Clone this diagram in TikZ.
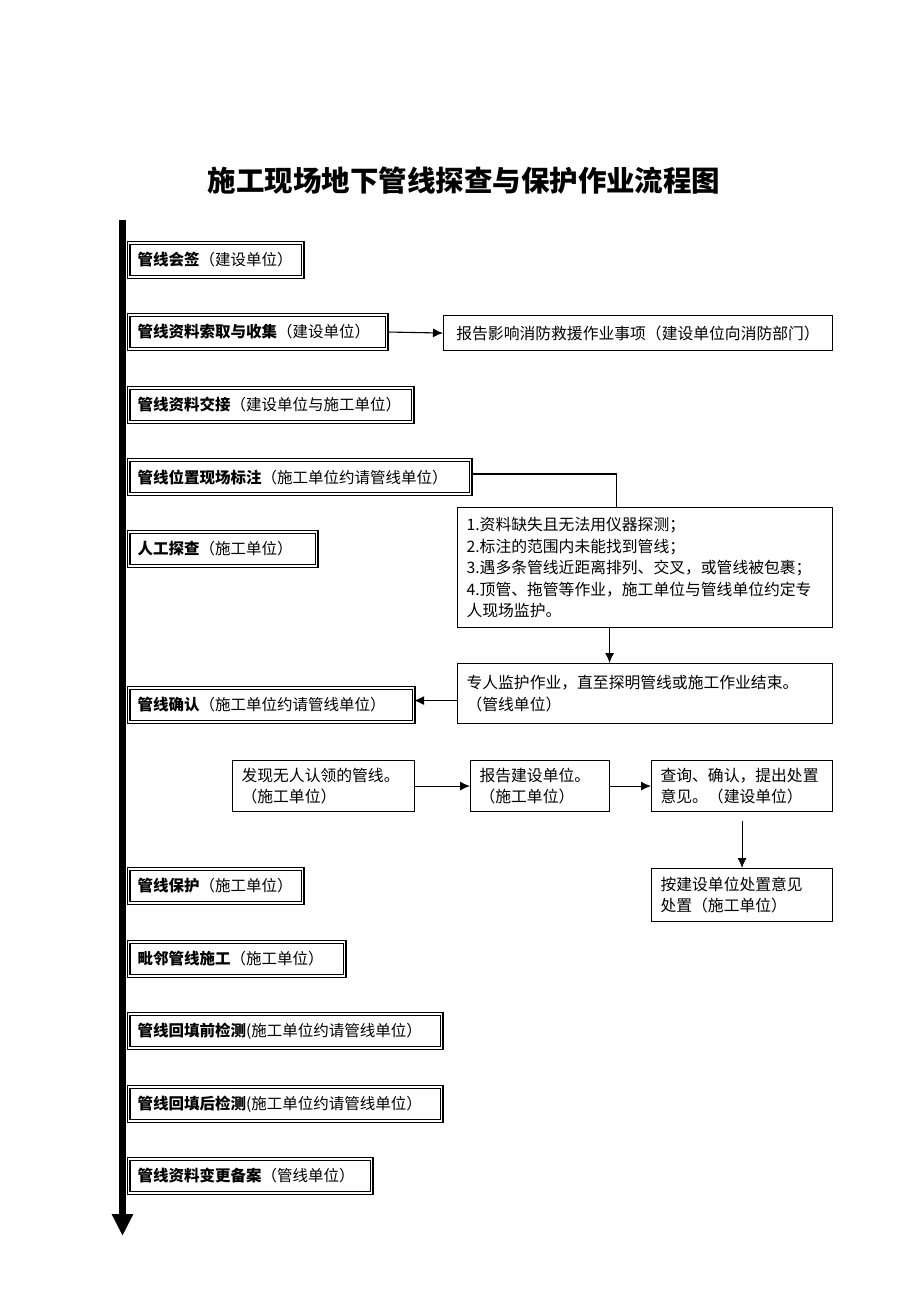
\documentclass[tikz,border=0pt]{standalone}
\usepackage{fontspec}
\setmainfont{Noto Sans CJK SC}
\usetikzlibrary{arrows.meta,positioning,calc}

\begin{document}
\begin{tikzpicture}
[x=1pt,y=-1pt,
%
stage/.style={draw=black,double,double distance=1.8pt,line width=1.1pt,anchor=west,
  minimum height=34pt,inner xsep=9pt,font=\fontsize{15.5}{20}\selectfont},
note/.style={draw=black,line width=1.1pt,anchor=north west,inner xsep=9pt,align=left,
  font=\fontsize{15.8}{21.5}\selectfont},
%
line/.style={draw,line width=1.1pt},
link/.style={line,-{Latex[length=10pt,width=9pt]}},
spine/.style={line width=7pt,-{Triangle[length=22pt,width=20pt]}}]
%
\useasboundingbox (0,0) rectangle (920,1302);
%
%% title
\node (title) [font=\fontsize{28.5}{30}\selectfont\bfseries] at (464,181)
  {施工现场地下管线探查与保护作业流程图};
%
%% main line
\coordinate (top) at (122.5,220);
\coordinate (bot) at (122.5,1236);
\draw[spine] (top) -- (bot);
%
%% steps along the main line
\foreach \n/\y/\r/\a/\b in {b1/260/304/管线会签/（建设单位）,
    b2/332/388/管线资料索取与收集/（建设单位）,
    b3/405/414/管线资料交接/（建设单位与施工单位）,
    b4/477/472/管线位置现场标注/（施工单位约请管线单位）,
    b5/549/318/人工探查/（施工单位）,
    b6/705/415/管线确认/（施工单位约请管线单位）,
    b7/886/304/管线保护/（施工单位）,
    b8/959/346/毗邻管线施工/（施工单位）,
    b9/1031/443/管线回填前检测/(施工单位约请管线单位）,
    b10/1104/443/管线回填后检测/(施工单位约请管线单位）,
    b11/1176/373/管线资料变更备案/（管线单位）}{
  \pgfmathsetmacro\tw{\r-148}
  \node (\n) [stage,text width=\tw pt] at (128,\y) {\textbf{\a}\b};
}
%
%% side notes
\node (fire) [note,minimum height=35pt,text width=371pt,align=center] at (443,315)
  {报告影响消防救援作业事项（建设单位向消防部门）};
\node (cases) [note,minimum height=120pt,text width=357pt] at (457,507)
  {1.资料缺失且无法用仪器探测；\\
   2.标注的范围内未能找到管线；\\
   3.遇多条管线近距离排列、交叉，或管线被包裹；\\
   4.顶管、拖管等作业，施工单位与管线单位约定专\\
   人现场监护。};
\node (watch) [note,minimum height=60pt,text width=357pt] at (457,663)
  {专人监护作业，直至探明管线或施工作业结束。\\（管线单位）};
\node (find) [note,minimum height=51pt,text width=164pt] at (232,760)
  {发现无人认领的管线。\\（施工单位）};
\node (report) [note,minimum height=51pt,text width=121pt] at (470,760)
  {报告建设单位。\\（施工单位）};
\node (ask) [note,minimum height=51pt,text width=163pt] at (651,760)
  {查询、确认，提出处置\\意见。（建设单位）};
\node (fix) [note,minimum height=53pt,text width=163pt] at (651,868)
  {按建设单位处置意见\\处置（施工单位）};
%
%% connectors
\draw[link] (b2.east) -- (fire.west);
\draw[line] ([yshift=3pt]b4.east) -| ([xshift=-28.5pt]cases.north);
\draw[link] ([xshift=-35.5pt]cases.south) -- ([xshift=-35.5pt]watch.north);
\draw[link] ([yshift=-7pt]watch.west) -- ([yshift=-7pt]watch.west -| b6.east);
\draw[link] (find.east) -- (report.west);
\draw[link] (report.east) -- (ask.west);
\draw[link] ([yshift=-9pt]ask.south) -- (fix.north);
\end{tikzpicture}
\end{document}
